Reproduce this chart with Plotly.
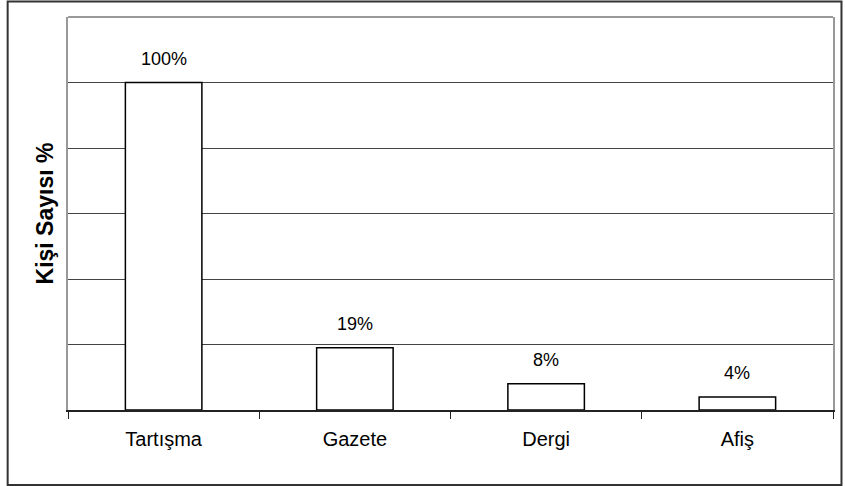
import plotly.graph_objects as go

categories = ["Tartışma", "Gazete", "Dergi", "Afiş"]
values = [100, 19, 8, 4]
value_labels = ["100%", "19%", "8%", "4%"]
y_title = "Kişi Sayısı %"
grid_vals = [20, 40, 60, 80, 100]

FONT = "Liberation Sans, Arial, sans-serif"

fig = go.Figure()
fig.add_trace(go.Bar(
    x=categories, y=values, width=0.4,
    marker=dict(color="white", line=dict(color="black", width=1.5)),
    hoverinfo="skip",
))

for c, v, t in zip(categories, values, value_labels):
    fig.add_annotation(x=c, y=v, text=t, showarrow=False, yanchor="middle",
                       yshift=24, font=dict(family=FONT, size=18, color="black"))

L, R, T, B = 68, 10, 17, 76
W, H = 845, 486
pw, ph = W - L - R, H - T - B
# outer frame (paper coords)
fig.add_shape(type="rect", xref="paper", yref="paper",
              x0=(7.5 - L) / pw, x1=(843.5 - L) / pw,
              y0=(H - B - 485) / ph, y1=(H - B - 1.5) / ph,
              line=dict(color="#333333", width=2))
# top plot border
fig.add_shape(type="line", xref="paper", yref="paper", x0=0, x1=1, y0=1, y1=1,
              line=dict(color="#999999", width=2))

fig.update_layout(
    width=W, height=H,
    margin=dict(l=L, r=R, t=T, b=B),
    paper_bgcolor="white", plot_bgcolor="white",
    showlegend=False,
    font=dict(family=FONT, color="black"),
    xaxis=dict(showline=True, linecolor="#222222", linewidth=1.5, mirror=False,
               ticks="outside", tickson="boundaries", ticklen=7, tickcolor="#222222",
               ticklabelstandoff=10,
               showgrid=False, tickfont=dict(size=20), fixedrange=True),
    yaxis=dict(range=[0, 120], tickvals=grid_vals, showticklabels=False, ticks="",
               showgrid=True, gridcolor="#444444", gridwidth=1,
               showline=True, linecolor="#999999", linewidth=2, mirror=True,
               zeroline=False, fixedrange=True,
               title=dict(text="<b>" + y_title + "</b>", font=dict(size=23), standoff=6)),
)

fig.write_html("out.html", config={"displayModeBar": False},
               post_script="document.body.style.margin='0';document.body.style.overflow='hidden';")
